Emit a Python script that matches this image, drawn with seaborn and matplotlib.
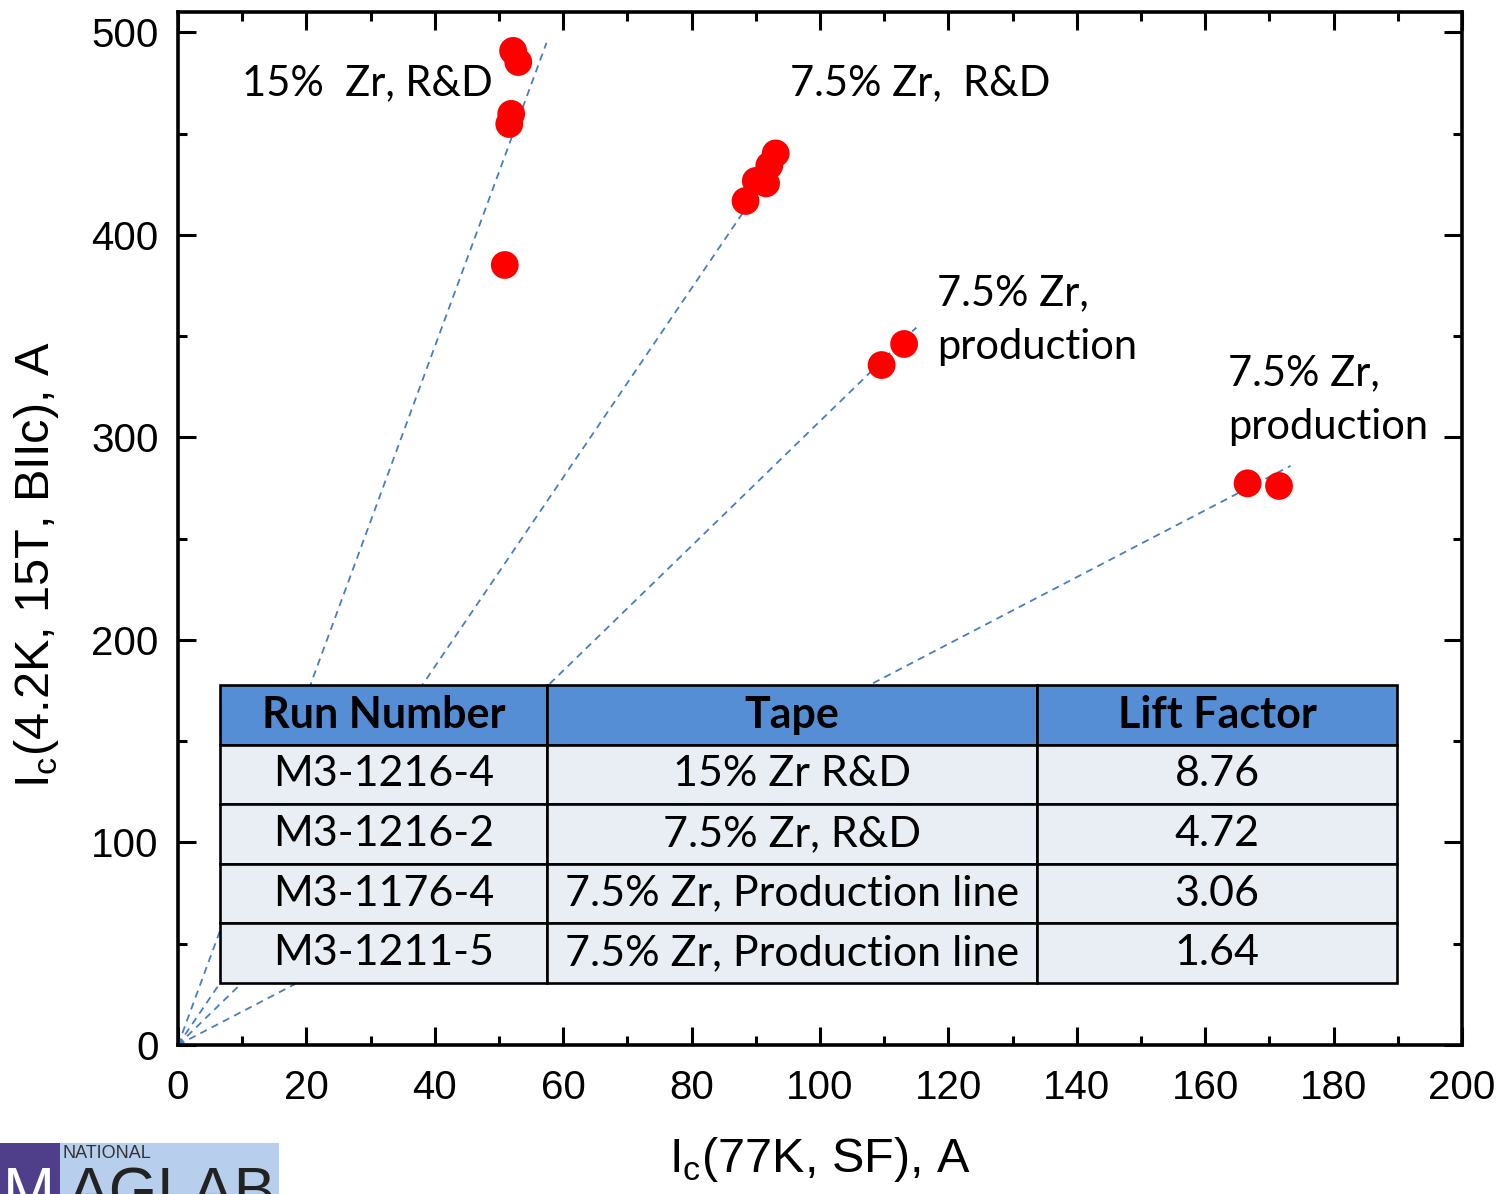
import numpy as np
import pandas as pd
import seaborn as sns
import matplotlib.pyplot as plt
from matplotlib.ticker import MultipleLocator
from matplotlib.patches import Rectangle

# measured points, Ic(77K, SF) vs Ic(4.2K, 15T)
group = ['15% R&D'] * 5 + ['7.5% R&D'] * 5 + ['prod 1'] * 2 + ['prod 2'] * 2
ic77 = [52.2, 53.0, 51.9, 51.6, 50.9,
        93.1, 92.1, 91.6, 90.0, 88.4,
        113.1, 109.6,
        166.6, 171.5]
ic42 = [490.8, 485.3, 459.7, 454.7, 385.1,
        440.2, 434.2, 425.4, 426.6, 416.7,
        346.1, 335.7,
        277.3, 276.0]

# dashed guide lines through origin
fit_slopes = [8.62, 4.67, 3.08, 1.65]
fit_xmax = [57.4, 92.2, 115.0, 173.3]

# table
col_labels = ['Run Number', 'Tape', 'Lift Factor']
runs = ['M3-1216-4', 'M3-1216-2', 'M3-1176-4', 'M3-1211-5']
tapes = ['15% Zr R&D', '7.5% Zr, R&D', '7.5% Zr, Production line', '7.5% Zr, Production line']
lift = ['8.76', '4.72', '3.06', '1.64']

df = pd.DataFrame({'group': group, 'ic77': ic77, 'ic42': ic42})

sns.set_style('ticks')
plt.rcParams['font.family'] = ['Liberation Sans', 'DejaVu Sans']
plt.rcParams['text.color'] = 'black'
plt.rcParams['xtick.color'] = 'black'
plt.rcParams['ytick.color'] = 'black'

fig = plt.figure(figsize=(14.99, 11.94), dpi=100)
ax = fig.add_axes([178 / 1499, 1 - 1045 / 1194, 1284 / 1499, 1033 / 1194])

for s, xm in zip(fit_slopes, fit_xmax):
    line_df = pd.DataFrame({'x': [0, xm], 'y': [0, s * xm]})
    sns.lineplot(data=line_df, x='x', y='y', ax=ax, color='#4A7EBB', lw=1.3,
                 dashes=False, zorder=2)
for l in ax.lines:
    l.set_dashes((4, 3))

sns.scatterplot(data=df, x='ic77', y='ic42', ax=ax, color='#FF0000', s=400,
                edgecolor='none', zorder=3, legend=False)

ax.set_xlim(0, 200)
ax.set_ylim(0, 510)
ax.xaxis.set_major_locator(MultipleLocator(20))
ax.xaxis.set_minor_locator(MultipleLocator(10))
ax.yaxis.set_major_locator(MultipleLocator(100))
ax.yaxis.set_minor_locator(MultipleLocator(50))
ax.tick_params(which='both', direction='in', top=True, right=True, width=2.2,
               labelsize=29, color='black', labelcolor='black')
ax.tick_params(which='major', length=13)
ax.tick_params(which='minor', length=6.5)
ax.tick_params(axis='y', pad=14)
ax.tick_params(axis='x', pad=17)
for sp in ax.spines.values():
    sp.set_visible(True)
    sp.set_linewidth(2.6)
    sp.set_color('black')

ax.set_xlabel('')
ax.set_ylabel('')
fig.text(820 / 1499, 1 - 1160 / 1194, r'I$_\mathregular{c}$(77K, SF), A',
         ha='center', va='center', fontsize=35)
fig.text(37 / 1499, 1 - 565 / 1194, r'I$_\mathregular{c}$(4.2K, 15T, BIIc), A',
         ha='center', va='center', rotation=90, fontsize=35)

lab_font = dict(family='Lato', fontsize=30, color='black', va='center', ha='left')
ax.text(10.0, 475, '15%  Zr, R&D', **lab_font)
ax.text(95.3, 475, '7.5% Zr,  R&D', **lab_font)
ax.text(118.2, 358, '7.5% Zr,\nproduction', linespacing=1.5, **lab_font)
ax.text(163.6, 318.5, '7.5% Zr,\nproduction', linespacing=1.5, **lab_font)

cells = [[r, t, f] for r, t, f in zip(runs, tapes, lift)]
tbl = ax.table(cellText=cells, colLabels=col_labels, cellLoc='center',
               colWidths=[327, 490, 360],
               bbox=[42 / 1284, 62 / 1033, 1177 / 1284, 298 / 1033], zorder=5)
tbl.auto_set_font_size(False)
for (r, c), cell in tbl.get_celld().items():
    cell.set_edgecolor('black')
    cell.set_linewidth(1.9)
    cell.get_text().set_fontfamily('Lato')
    cell.get_text().set_fontsize(31)
    if r == 0:
        cell.set_facecolor('#558ED5')
        cell.get_text().set_fontweight('bold')
    else:
        cell.set_facecolor('#E9EDF4')

# logo at lower left (cut off by figure edge, as in the original)
fig.patches.append(Rectangle((0, 0), 60 / 1499, 51 / 1194, transform=fig.transFigure,
                             facecolor='#4F3F8B', edgecolor='none'))
fig.patches.append(Rectangle((60 / 1499, 0), 219 / 1499, 51 / 1194, transform=fig.transFigure,
                             facecolor='#B7CFEC', edgecolor='none'))
fig.text(63 / 1499, 1 - 1153 / 1194, 'NATIONAL', fontsize=13, color='#333333',
         ha='left', va='center')
fig.text(3 / 1499, 1 - 1211 / 1194, 'M', fontsize=45, color='white',
         ha='left', va='baseline')
fig.text(68 / 1499, 1 - 1211 / 1194, 'AGLAB', fontsize=45, color='#222222',
         ha='left', va='baseline')

fig.savefig('out.png', dpi=100)
